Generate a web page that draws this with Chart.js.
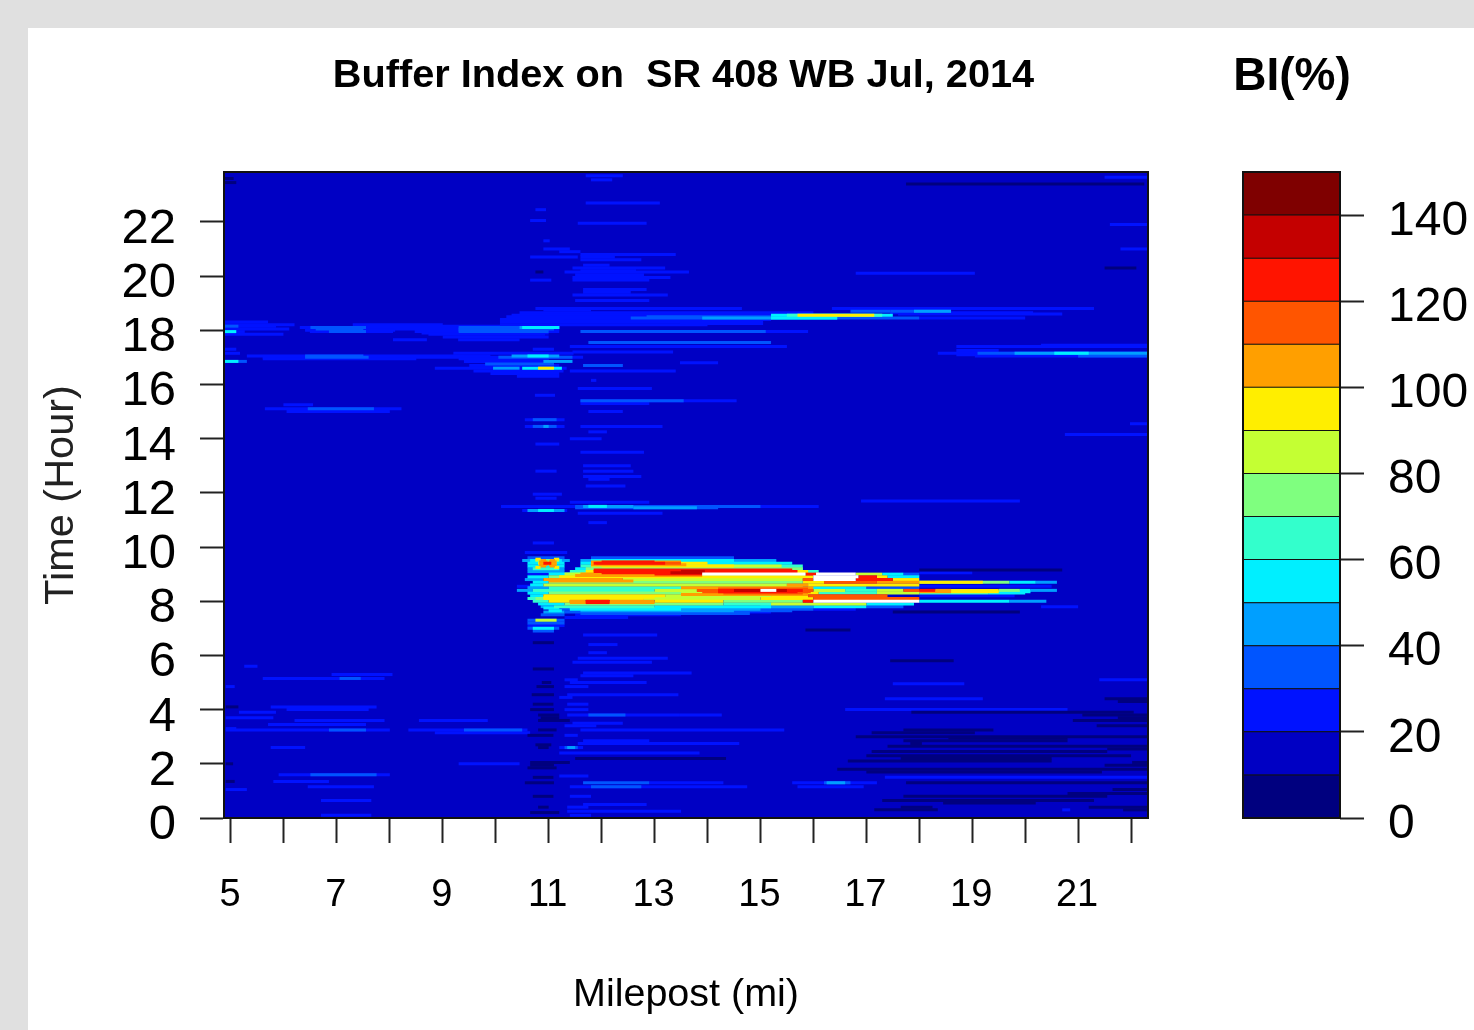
<!DOCTYPE html>
<html>
<head>
<meta charset="utf-8">
<title>Buffer Index</title>
<script src="https://cdn.jsdelivr.net/npm/chart.js@4/dist/chart.umd.min.js"></script>
<style>
  html, body { margin: 0; padding: 0; width: 1474px; height: 1030px; overflow: hidden; background: #e0e0e0; }
  #panel { position: absolute; left: 28px; top: 28px; width: 1446px; height: 1002px; background: #fff; }
  #heatmap, #colorbar { position: absolute; filter: blur(0.6px); }
  #heatmap { left: 0; top: 0; }
  #colorbar { left: 1230px; top: 160px; }
  .head { position: absolute; font-family: "Liberation Sans", Arial, sans-serif; font-weight: bold; color: #000; white-space: pre; transform: translate(-50%, -50%); filter: blur(0.5px); }
</style>
</head>
<body>
<div id="panel"></div>
<canvas id="heatmap" width="1474" height="1030"></canvas>
<canvas id="colorbar" width="244" height="700"></canvas>
<div class="head" style="left:683.5px;top:73px;font-size:39.7px">Buffer Index on  SR 408 WB Jul, 2014</div>
<div class="head" style="left:1292px;top:74px;font-size:46px">BI(%)</div>
<script>
// axis ticks
const xTicks = [5, 6, 7, 8, 9, 10, 11, 12, 13, 14, 15, 16, 17, 18, 19, 20, 21, 22];
const xTickLabels = [5, 7, 9, 11, 13, 15, 17, 19, 21];
const yTicks = [0, 2, 4, 6, 8, 10, 12, 14, 16, 18, 20, 22];
const barTicks = [0, 20, 40, 60, 80, 100, 120, 140];

// BI classes, one per colour bar box
const levelFrom = [0, 10, 20, 30, 40, 50, 60, 70, 80, 90, 100, 110, 120, 130, 140];
const levelTo = [10, 20, 30, 40, 50, 60, 70, 80, 90, 100, 110, 120, 130, 140, 150];
const levelColors = ['#00007f', '#0000c4', '#0012ff', '#0055ff', '#009fff', '#00efff', '#33ffcc', '#7fff7f',
  '#c4ff33', '#ffee00', '#ff9f00', '#ff5500', '#ff1400', '#c40000', '#7f0000'];

// every streak is [hour, milepost from, milepost to], one list per BI class
const bi5 = [
  [23.6,4.87,5.05],[23.45,4.87,5.1],[23.4,17.75,22.25],[20.3,21.5,22.1],[20.15,10.75,10.9],[6.94,15.85,16.7],[7.6,17.5,19.9],[9.15,18,20.7],
  [6.47,10.7,11.1],[5.8,17.45,18.65],[5.5,10.7,11.1],[5,10.87,11.05],[4.85,10.77,11.1],[4.55,10.68,11.1],[4.2,10.7,11.09],
  [4.1,4.9,5.14],[4,10.65,11.1],[3.8,10.8,11.2],[3.7,10.85,11.2],[3.6,10.8,11.4],[3.25,10.8,11.15],[3.05,10.6,11.09],
  [2.7,10.75,11.05],[2.6,10.8,11],[2.2,11.5,14.35],[2.05,10.65,11.4],[2,4.9,5.04],[1.95,10.65,11.1],[1.85,10.6,11.15],[1.5,10.7,11.09],
  [1.35,4.9,5.07],[1.3,10.55,11.1],[0.8,10.7,11.09],[0.4,10.8,11],[0.2,10.65,11.2],
  [4.4,21.5,22.32],[4.3,21.75,22.32],[3.9,17.85,22.05],[3.8,21.08,22.32],[3.7,21.75,22.32],[3.6,20.9,22.32],[3.4,21.35,22.32],
  [3.25,17.7,19.4],[3.15,17.1,19.05],[3,16.8,22.32],[2.95,18.55,20.8],[2.85,17.7,20.8],[2.75,17.83,18.05],[2.65,17.4,22.32],
  [2.55,21.55,22.32],[2.45,17.1,21.55],[2.3,17,22],[2.2,17.65,20.5],[2.1,16.65,20.5],[2.05,22.02,22.32],[1.95,21.5,22.32],
  [1.8,16.45,22.32],[1.7,17,21.45],[1.3,17.75,22.32],[1.05,21.65,22.32],[0.9,20.8,22.32],[0.8,17.7,21.55],[0.65,17.3,21.3],
  [0.55,18.45,20.2],[0.4,17.65,18.25],[0.4,21.2,22.32],[0.3,17.15,18.35],[0.3,21.85,22.32]
];
const bi25 = [
  [23.7,11.7,12.4],[23.55,11.8,12.2],[23.65,21.5,22.32],[22.7,11.7,13.1],[22.45,10.75,10.95],[22.05,10.65,10.95],[21.95,11.55,12.85],[21.9,21.6,22.32],
  [21.3,10.9,11.02],[21,10.9,11.4],[21,21.8,22.32],[20.9,11.2,11.6],[20.8,11.6,13.4],[20.7,10.65,11.55],[20.7,11.6,12.25],[20.6,11.6,12.75],
  [20.4,11.65,12.15],[20.3,11.45,13.2],[20.2,11.6,12.65],[20.15,11.3,13.65],[20.1,16.8,19.05],[20.05,11.5,12.8],[19.95,11.45,13.3],[19.85,10.65,11.05],[19.85,11.45,12.9],
  [19.5,11.65,12.85],[19.4,11.65,12.55],[19.3,11.45,13.25],[19.1,11.5,12.9],
  [18.8,10.75,14.65],[18.8,16.35,21.3],[18.75,10.9,11.8],[18.65,10.45,16],[18.65,17.45,20.15],[18.6,17.6,20.7],[18.55,10.3,15.5],[18.5,10.2,15.7],[18.45,18,20],[18.4,10.08,15.2],
  [18.35,11.3,13.9],[18.3,4.87,5.7],[18.3,10.08,15.05],[18.25,13.48,15.05],[18.2,10.08,14],
  [18.2,4.87,6.2],[18.2,7.3,9],[18.15,4.87,5.85],[18.15,7.34,11.1],[18.1,6.3,11.2],[18.05,4.87,6.1],[18.05,6.4,11.2],[18,6.4,8.1],
  [17.95,4.87,5.26],[17.95,6.49,8.06],[17.95,8.47,11.2],[17.95,13.8,15.9],[17.9,8.6,11],[17.85,4.87,5.99],[17.85,8.73,10.93],[17.75,9,11],
  [17.65,8.06,8.7],[17.65,9.29,10.45],[17.45,20.3,22.32],[17.4,18.7,22.32],[17.4,11.4,15.5],[17.3,4.87,5.1],[17.3,10.7,11.1],[17.25,18.7,19.5],[17.2,11.45,13.35],
  [17.15,4.87,5.17],[17.15,9.2,11.47],[17.15,18.35,22.32],[17.1,18.7,22.32],[17.05,19.05,22.32],[17.05,5.3,9.9],[17,5.6,9.83],[17,9.4,11.65],[16.95,5.6,8.5],[16.95,9.3,11],
  [16.9,9.4,11],[16.85,9.4,10.9],[16.8,13.48,14.2],[16.7,9.5,11.2],[16.7,11.65,12.4],
  [16.6,8.85,11.34],[16.5,9.58,11.28],[16.5,11.4,13.4],[16.4,9.9,11.2],[16.3,10.4,11.2],[16.15,11.8,11.9],[15.85,11.55,12.95],[15.6,10.74,11.12],[15.4,11.6,13.55],[15.4,13.48,14.55],
  [15.25,5.99,6.55],[15.3,11.6,12.9],[15.1,5.64,8.22],[15,6.05,8],[15,11.75,12.4],[14.7,10.55,11.3],[14.55,21.98,22.3],[14.45,10.55,11.3],[14.45,11.6,13.15],
  [14.25,11.75,12.1],[14.15,20.75,22.32],[14,11.4,12],[13.8,10.75,11.2],[13.5,11.6,12.8],[13,11.65,12.55],[12.8,10.75,11.15],[12.8,11.65,12.6],[12.6,11.65,12.75],[12.5,11.75,12.15],
  [12.25,11.7,12.45],[11.95,10.7,11.25],[11.8,10.75,11.15],[11.7,16.9,19.9],[11.65,11.4,12.9],[11.5,10.1,16.1],[11.35,10.5,11.35],[11.25,11.55,13.15],[10.9,11.75,12.1],
  [10.15,10.7,11.1],[9.8,10.55,11.35],[9,10.6,11],[9.05,18,19],[8.55,10.4,10.7],[8.55,18,20.5],[8.2,18,19.8],[7.8,20.3,21],[7.7,16,16.8],[7.6,14,15.2],[7.5,11.5,13.5],[7.4,11.3,12.5],
  [7.1,10.6,11.3],[6.75,11.65,13.05],[6.4,11.75,12.3],[6.1,11.75,12.1],[5.9,11.55,13.25],[5.75,11.45,12.95],[5.6,5.25,5.5],[5.35,11.65,13.7],[5.3,6.9,8.05],[5.25,11.6,12.6],
  [5.15,5.6,7.9],[5.1,11.3,11.55],[5.1,21.4,22.32],[5,11.4,12.85],[4.95,17.5,18.85],[4.85,4.9,5.07],[4.85,11.3,11.75],[4.55,11.35,13.45],[4.45,11.2,11.45],[4.4,17.35,19.2],
  [4.2,11.35,11.75],[4.1,5.75,7.75],[4,6.05,7.6],[4,11.3,11.75],[4,16.6,20.8],[3.9,5.15,5.85],[3.8,11.35,13.48],[3.8,13.48,14.27],[3.7,4.9,5.8],[3.6,6.2,7.9],[3.6,8.55,9.85],
  [3.5,11.45,12.4],[3.45,5.7,7.55],[3.4,11.3,11.9],[3.3,4.9,5.1],[3.25,4.9,8],[3.25,8.35,10.6],[3.25,11.6,15.45],[3.15,8.85,10.65],[3.05,11.3,11.55],[2.85,11.65,12.9],[2.75,11.55,14.6],
  [2.6,5.75,6.4],[2.6,11.2,11.65],[2.4,11.2,13.85],[2,9.3,10.45],[1.6,5.9,8],[1.55,11.2,11.75],[1.5,17.35,22.32],[1.35,5.8,6.85],[1.3,12.9,14.3],[1.3,15.6,17.2],[1.15,6.45,7.7],
  [1.15,11.4,14.75],[1.15,15.7,16.95],[1.05,4.9,5.3],[0.8,11.4,11.8],[0.65,6.7,7.65],[0.5,11.65,12.85],[0.4,11.35,11.75],[0.3,20.7,20.85],[0.25,11.35,13.5],[0.1,6.7,7.65],[0.1,11.4,11.8]
];
const bi35 = [
  [18.5,12.85,16.4],[18.45,12.55,18],[18.7,16.7,17.45],[18.7,17.45,18.6],[18.1,6.5,7.55],[18.1,9.3,11.2],[18.05,6.6,7.5],[18.05,9.3,11.1],[18.15,4.87,5.14],[18,9.3,10.9],[17.95,6.85,7.55],[17.95,9.3,11],[17.95,11.6,15.1],
  [17.55,11.75,15.2],[17.15,19.1,22.32],[17.05,21,22.32],[17.05,6.4,7.5],[17,6.4,7.6],[17,10.05,11.45],[16.85,4.87,5.3],[16.75,9.8,11.1],[16.7,11.65,12.4],[15.4,11.6,13.55],[15.1,6.45,7.7],
  [14.7,10.7,11.15],[14.45,10.7,11.15],[11.5,11.5,15],[11.45,11.5,14.2],[3.8,11.75,12.45],[3.25,6.85,7.55],[3.25,9.4,10.5],[5.15,7.05,7.45],[1.6,6.5,7.75],[1.3,11.65,12.9],[1.3,16.2,16.7],[1.15,11.8,12.75],
  [2.6,11.3,11.55],[9.6,10.6,11.3],[9.6,11.8,14.5],[9,17.7,18],[8.5,17,18],[7.8,17,17.7],[7.7,11,11.6],[7.7,15,16],[7.65,14.5,15.6],[7.6,11.3,14],[7.55,11.6,14.8],[7.5,10.85,11.3],[7.3,10.6,11.3],[7.2,10.6,11.3],[7,10.6,11.2],[6.9,10.7,11.1]
];
const bi45 = [
  [18.7,17.9,18.6],[18.45,13.9,16.45],[18.1,10.45,11.2],[17.05,10.3,11.2],[16.85,10.9,11.45],[16.6,9.95,10.45],[17.15,19.8,22.32],[14.45,10.9,11],[11.5,11.65,12.6],[11.45,12.6,13.8],
  [11.35,10.6,11.3],[2.6,11.35,11.5],[1.3,16.25,16.6],
  [9.5,11.6,15.3],[9.5,10.5,11.4],[9.2,10.6,11.3],[9.1,10.6,11.3],[8.8,10.55,10.9],[8.5,10.6,11],[8.4,10.4,10.7],[8.7,20.2,20.6],[8.4,20.1,20.6],[8,19.7,20.4],[7.8,10.85,11.1],[7.8,15,16],[7.75,11.4,15],[7.7,13,15],[7.65,11.6,14.5],[7.6,10.9,11.3]
];
const bi55 = [
  [18.55,15.2,17.5],[18.45,15.2,16.45],[18.1,10.5,11.2],[17.95,4.87,5.1],[17.05,10.6,11],[16.85,4.87,5.14],[16.6,10.5,11.25],[17.15,20.55,21.2],[11.5,11.75,12.1],[11.35,10.8,11.1],
  [9.5,11.8,14.5],[9.5,10.65,11.25],[9.4,11.6,15.6],[9.4,10.6,11.3],[9.3,10.6,11.3],[9.2,11.5,15.8],[9,11,16.1],[9,17.3,17.7],[8.9,10.6,11],[8.9,17.4,18],[8.7,10.7,11],[8.7,19.7,20.2],
  [8.6,10.65,10.9],[8.5,15.9,17],[8.4,19.9,20.1],[8.35,19.5,20.1],[8.3,10.6,11],[8.3,19.3,20],[8.2,10.65,10.9],[8,18,19.7],[7.9,10.8,11.3],[7.9,17,17.9],[7.8,13,15.2],[7.8,16,17],[7.75,10.9,11.2],[7.7,11.4,13.5],[7.65,11,11.25],[7,10.7,11.1]
];
const bi65 = [
  [18.55,15.5,17.3],[9.3,11.6,15.8],[9.2,10.7,11.2],[9.1,11.4,16.1],[8.5,11,15],[8.4,10.7,13],[8.4,16.6,17.2],[8.3,16.1,17.2],[8.3,18,19.3],[8.1,10.6,10.9],[8,10.7,11],[7.9,14.3,15.2],[7.8,11.1,13]
];
const bi75 = [
  [9.5,10.75,11.2],[9.2,11.7,15.8],[8.9,11,16],[8.7,11,15.8],[8.7,18,19.7],[8.4,19.5,19.9],[8.3,11,13.5],[8.1,10.75,11],[8,14.3,15.8],[7.9,11.3,14.3]
];
const bi85 = [
  [9.3,11.8,15.4],[9,11.3,13.9],[9,16.8,17.3],[8.8,12.4,15.8],[8.6,10.9,15.5],[8.5,15,15.8],[8.4,13,13.8],[8.4,16,16.6],[8.4,17.2,17.7],[8.3,13.5,14.5],[8.3,17.2,18],
  [8.2,13.2,15.2],[8.1,12.8,15],[7.9,15.2,17],[7.3,10.75,11.15]
];
const bi95 = [
  [18.55,15.7,17.15],[16.6,10.8,11.1],[9.55,10.75,10.85],[9.55,11.1,11.2],[9.4,10.8,11.15],[9.4,11.8,14],[9.3,12,14.5],[9.25,10.75,10.85],[9.25,11.1,11.2],[9.1,11.7,15.9],[8.9,11.2,16],[8.9,17.2,17.4],[8.8,17.5,18],[8.7,15.8,16.2],[8.7,18,19.2],[8.6,15.9,18],[8.4,18.6,19.5],[8.35,18.6,19.5],
  [8.3,15.8,16.1],[8.2,10.9,13.2],[8.2,15.2,15.9],[8.15,10.9,13],[8.1,10.9,12.8],[8.1,15,16],[8,11,11.4],[8,13,14.3]
];
const bi105 = [
  [9.5,10.85,10.95],[9.5,11.02,11.12],[9.45,10.82,10.98],[9.45,11,11.15],[9.45,11.8,13.5],[9.35,10.82,10.98],[9.35,11,11.15],[9.35,11.8,13.6],[9.3,10.85,10.95],[9.3,11.02,11.12],[9,11.6,13],[8.95,11.5,13.9],[8.8,10.9,12.4],[8.75,11,12.6],[8.7,17.2,18],[8.6,15.5,15.9],[8.5,13.5,16],
  [8.4,18.3,18.6],[8.35,18,18.6],[8.3,14.5,15.8],[8.25,13.5,15.9],[8,11.4,11.7],[8,12.15,13],[7.95,11.4,13]
];
const bi115 = [
  [9.4,11.9,13.5],[8.8,15.8,16],[8.7,16.2,17.2],[8.45,14.2,15.9],[8.4,13.8,14.5],[8.4,15.6,16],[8.4,17.7,18],[8.35,13.9,15.95],[8.3,14.3,15.8],[8.2,15.9,17.4],[8.1,16,18]
];
const bi125 = [
  [9.45,12,13],[9.4,10.9,11.05],[9.4,11.85,13.2],[9.15,11.85,15.6],[9.1,11.85,15.7],[9.05,12,15.5],[9,13,13.9],[9,15.85,16.1],[8.9,16.85,17.2],[8.8,16.8,17.5],[8.4,14.2,15.8],[8.4,18,18.3],[8.35,14.2,15.7],[8,11.7,12.15],[8,15.8,16],[7.95,11.7,12.15]
];
const bi135 = [[9.1,13.5,13.95],[9.05,13.3,13.9],[8.4,14.5,15.5]];
// above the top class, left white in the source plot
const biOver = [[9,13.9,15.85],[9,16.05,16.8],[8.9,16,16.85],[8.8,16,16.8],[8.4,15,15.3],[8,16,18]];

const xMin = 4.868, xMax = 22.32;
const yMin = 0, yMax = 23.84;
const fontName = '"Liberation Sans", Arial, sans-serif';

function streakDataset(list, color, order, thickness) {
  return {
    data: list.map(function(s) { return { y: s[0], x: [s[1], s[2]] }; }),
    backgroundColor: color,
    borderWidth: 0,
    inflateAmount: 0,
    barThickness: thickness,
    grouped: false,
    order: order
  };
}

// black box round the plot
const plotFrame = {
  id: 'plotFrame',
  afterDraw: function(chart) {
    const a = chart.chartArea, c = chart.ctx;
    c.save();
    c.strokeStyle = '#111';
    c.lineWidth = 2;
    c.strokeRect(a.left, a.top, a.right - a.left, a.bottom - a.top);
    c.restore();
  }
};

function noOverflow(s) {
  s.paddingTop = 0;
  s.paddingBottom = 0;
}

function createHeatmap() {
  const ctx = document.getElementById('heatmap').getContext('2d');
  // later lists must paint over earlier ones, chart.js draws the highest order first
  const lists = [
    [bi25, levelColors[2]], [bi5, levelColors[0]], [bi35, levelColors[3]], [bi45, levelColors[4]], [bi55, levelColors[5]], [bi65, levelColors[6]],
    [bi75, levelColors[7]], [bi85, levelColors[8]], [bi95, levelColors[9]], [bi105, levelColors[10]],
    [bi115, levelColors[11]], [bi125, levelColors[12]], [bi135, levelColors[13]], [biOver, '#ffffff']
  ];
  const datasets = lists.map(function(l, i) { return streakDataset(l[0], l[1], lists.length - i, 3); });
  // the 10-20 class covers everything else
  datasets.push(streakDataset([[(yMin + yMax) / 2, xMin, xMax]], levelColors[1], lists.length + 1, 660));

  return new Chart(ctx, {
    type: 'bar',
    data: { datasets: datasets },
    options: {
      indexAxis: 'y',
      responsive: false,
      animation: false,
      layout: { padding: { left: 30, top: 172, right: 326, bottom: 0 } },
      plugins: { legend: { display: false }, tooltip: { enabled: false } },
      scales: {
        x: {
          type: 'linear',
          min: xMin,
          max: xMax,
          offset: false,
          afterFit: function(s) { s.height = 212; },
          afterBuildTicks: function(s) { s.ticks = xTicks.map(function(v) { return { value: v }; }); },
          grid: { drawOnChartArea: false, tickLength: 25, tickColor: '#222', tickWidth: 2 },
          border: { color: '#111', width: 2 },
          ticks: {
            autoSkip: false,
            maxRotation: 0,
            padding: 30,
            labelOffset: -1,
            color: '#000',
            font: { family: fontName, size: 38 },
            callback: function(v) { return xTickLabels.includes(v) ? String(v) : ''; }
          },
          title: { display: true, text: 'Milepost (mi)', color: '#000', font: { family: fontName, size: 39.5 }, padding: { top: 0, bottom: 11 } }
        },
        y: {
          type: 'linear',
          min: yMin,
          max: yMax,
          offset: false,
          afterFit: function(s) { s.width = 194; noOverflow(s); },
          afterBuildTicks: function(s) { s.ticks = yTicks.map(function(v) { return { value: v }; }); },
          grid: { offset: false, drawOnChartArea: false, tickLength: 24, tickColor: '#222', tickWidth: 2 },
          border: { color: '#111', width: 2 },
          ticks: {
            autoSkip: false,
            padding: 24,
            color: '#000',
            labelOffset: 7.5,
            font: { family: fontName, size: 49 }
          },
          title: { display: true, text: 'Time (Hour)', color: '#222', font: { family: fontName, size: 41.5 }, padding: { top: 7, bottom: 0 } }
        }
      }
    },
    plugins: [plotFrame]
  });
}

function createColorbar() {
  const ctx = document.getElementById('colorbar').getContext('2d');
  return new Chart(ctx, {
    type: 'bar',
    data: {
      labels: ['BI'],
      datasets: levelFrom.map(function(lo, i) {
        return {
          data: [[lo, levelTo[i]]],
          backgroundColor: levelColors[i],
          borderColor: '#111',
          borderWidth: 1,
          borderSkipped: false,
          inflateAmount: 0.5,
          barPercentage: 1,
          categoryPercentage: 1,
          grouped: false
        };
      })
    },
    options: {
      responsive: false,
      animation: false,
      layout: { padding: { left: 13, top: 12, right: 0, bottom: 42 } },
      plugins: { legend: { display: false }, tooltip: { enabled: false } },
      scales: {
        x: { display: false, offset: true },
        y: {
          position: 'right',
          min: 0,
          max: 150,
          afterFit: function(s) { s.width = 134; noOverflow(s); },
          afterBuildTicks: function(s) { s.ticks = barTicks.map(function(v) { return { value: v }; }); },
          grid: { drawOnChartArea: false, tickLength: 24, tickColor: '#222', tickWidth: 2 },
          border: { display: false },
          ticks: { autoSkip: false, padding: 24, color: '#000', labelOffset: 6.5, font: { family: fontName, size: 48 } }
        }
      }
    },
    plugins: [plotFrame]
  });
}

document.addEventListener('DOMContentLoaded', function() {
  createHeatmap();
  createColorbar();
});
</script>
</body>
</html>
